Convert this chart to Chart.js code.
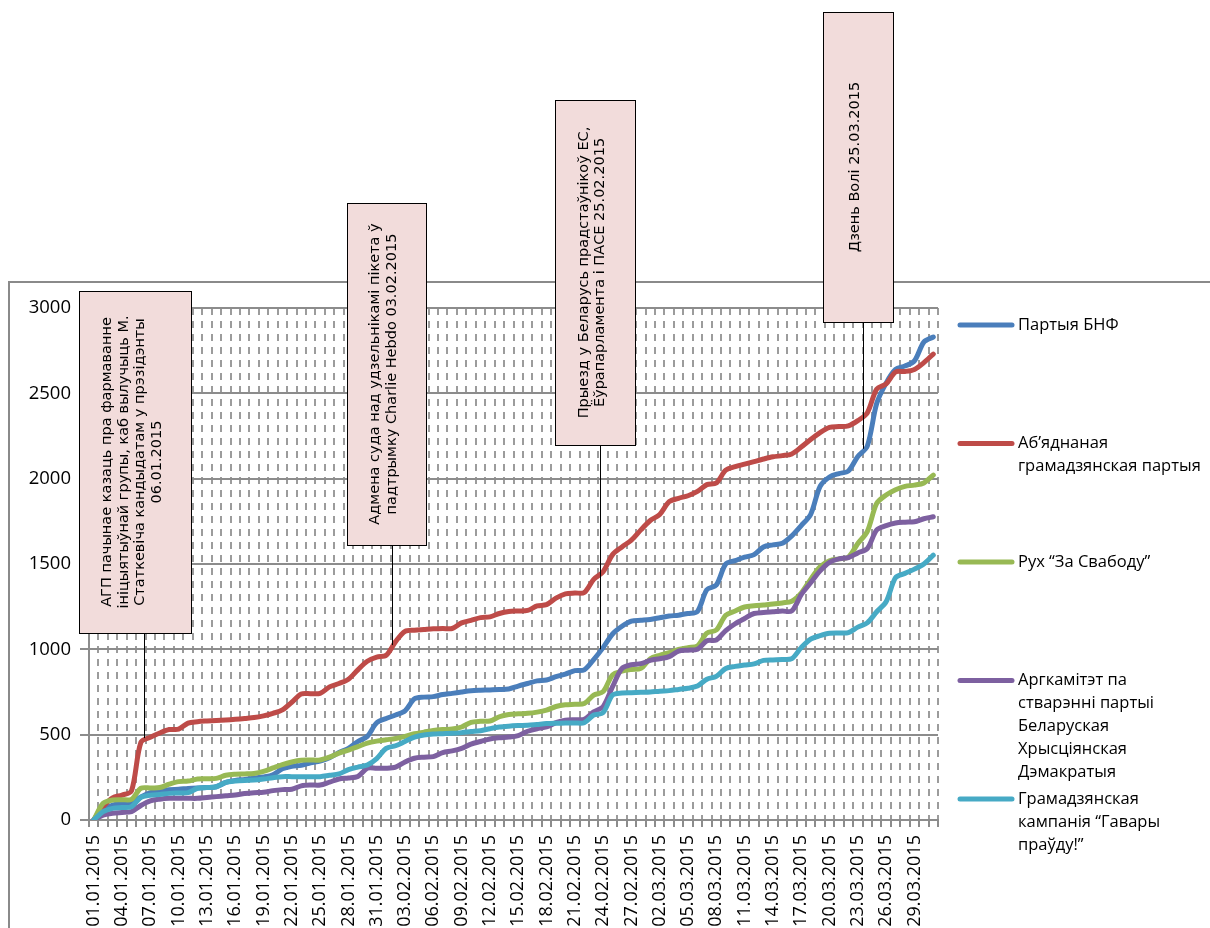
<html><head><meta charset="utf-8">
<script src="https://cdn.jsdelivr.net/npm/chart.js@4.4.0/dist/chart.umd.min.js"></script>
<style>
html,body{margin:0;padding:0;background:#fff;overflow:hidden;}
#wrap{position:absolute;left:0;top:0;width:1210px;height:928px;}
</style>
</head>
<body>
<div id="wrap"><canvas id="myChart" width="1210" height="928"></canvas></div>
<script>
function pad(n){ return n < 10 ? '0' + n : '' + n; }

// categories: every day from 01.01.2015 to 31.03.2015
var days = [];
var monthLen = [31, 28, 31];
for (var m = 0; m < 3; m++) {
  for (var d = 1; d <= monthLen[m]; d++) days.push(pad(d) + '.' + pad(m + 1) + '.2015');
}

var yTicks = [0, 500, 1000, 1500, 2000, 2500, 3000];

var seriesNames = [
  ['Партыя БНФ'],
  ['Аб’яднаная', 'грамадзянская партыя'],
  ['Рух “За Свабоду”'],
  ['Аргкамітэт па', 'стварэнні партыі', 'Беларуская', 'Хрысціянская', 'Дэмакратыя'],
  ['Грамадзянская', 'кампанія “Гавары', 'праўду!”']
];
var seriesColors = ['#4a7ebb', '#be4b48', '#98b954', '#7d60a0', '#46aac5'];

var bnf = [0,55,88,95,100,135,160,168,178,180,
  185,188,190,195,220,232,238,245,252,265,
  300,315,320,335,345,365,395,420,460,490,
  570,595,615,640,710,720,723,735,742,750,
  757,760,762,764,768,785,800,815,820,840,
  855,875,880,940,1010,1090,1135,1165,1170,1175,
  1185,1195,1200,1210,1222,1350,1377,1500,1520,1540,
  1555,1600,1612,1622,1665,1725,1790,1955,2010,2030,
  2045,2130,2190,2440,2560,2640,2660,2690,2800,2830];

var agp = [0,78,130,146,170,455,485,510,530,532,
  568,576,580,583,586,590,595,600,610,625,
  645,690,738,740,742,780,800,825,880,930,
  955,965,1045,1105,1112,1116,1120,1122,1122,1155,
  1170,1186,1190,1210,1222,1225,1228,1254,1262,1300,
  1325,1330,1333,1410,1455,1555,1600,1640,1700,1755,
  1790,1865,1885,1900,1925,1965,1975,2050,2070,2085,
  2100,2115,2128,2135,2145,2185,2230,2270,2300,2305,
  2310,2340,2385,2525,2555,2625,2628,2640,2680,2730];

var ruh = [0,98,117,119,121,186,188,190,210,225,
  228,240,242,244,262,268,270,273,285,305,
  325,340,350,351,352,368,392,410,430,450,
  462,470,478,490,505,515,525,530,533,545,
  572,578,580,605,618,622,625,632,644,665,
  675,678,682,732,752,850,872,882,888,945,
  965,980,1000,1010,1020,1095,1113,1200,1225,1248,
  1255,1260,1265,1272,1282,1330,1410,1484,1518,1530,
  1540,1620,1690,1855,1904,1935,1955,1962,1975,2021];

var bhd = [0,29,39,44,49,85,112,122,127,127,
  127,127,132,137,142,146,155,160,162,172,
  178,180,200,205,205,222,240,246,255,303,
  303,303,310,340,362,368,371,395,405,420,
  445,460,475,482,486,495,520,535,545,570,
  585,588,590,634,664,781,888,910,916,935,
  945,957,990,995,1000,1050,1055,1110,1150,1181,
  1210,1216,1220,1224,1225,1320,1390,1460,1510,1530,
  1538,1565,1590,1699,1725,1740,1745,1748,1765,1777];

var gp = [0,49,68,73,78,133,145,150,156,158,
  160,186,190,195,220,228,232,234,240,248,
  254,254,254,254,254,262,270,295,310,322,
  360,420,435,460,485,498,504,506,508,512,
  518,523,535,545,550,553,555,560,565,567,
  568,569,570,615,629,732,744,746,748,750,
  755,758,765,772,785,825,842,888,900,908,
  915,935,938,940,945,1010,1060,1080,1094,1096,
  1098,1130,1155,1220,1279,1420,1445,1470,1500,1552];

var seriesData = [bnf, agp, ruh, bhd, gp];

// callouts: text lines, box [x, y, w, h], connector end (category index, value)
var notes = [
  { lines: ['АГП пачынае казаць пра фармаванне', 'ініцыятыўнай групы, каб вылучыць М.', 'Статкевіча кандыдатам у прэзідэнты', '06.01.2015'],
    box: [79, 291, 112, 342], at: 5.3, val: 480 },
  { lines: ['Адмена суда над удзельнікамі пікета ў', 'падтрымку Charlie Hebdo 03.02.2015'],
    box: [347, 203, 79, 342], at: 31.6, val: 1025 },
  { lines: ['Прыезд у Беларусь прадстаўнікоў ЕС,', 'Ёўрапарламента і ПАСЕ 25.02.2015'],
    box: [555, 100, 80, 345], at: 53.7, val: 1000 },
  { lines: ['Дзень Волі 25.03.2015'],
    box: [823, 12, 70, 310], at: 81.5, val: 2175 }
];

var gridGray = '#8c8c8c';

var decor = {
  id: 'decor',
  beforeDraw: function(chart) {
    var ctx = chart.ctx;
    ctx.save();
    ctx.strokeStyle = '#8a8a8a';
    ctx.lineWidth = 2;
    ctx.strokeRect(9, 282, 1400, 900);
    ctx.restore();
  },
  afterDraw: function(chart) {
    var ctx = chart.ctx;
    var xs = chart.scales.x, ys = chart.scales.y;
    ctx.save();
    // legend
    var lx = 960, top = 325, step = 118.5, lh = 23;
    ctx.font = '16.5px "Open Sans"';
    ctx.textAlign = 'left';
    ctx.textBaseline = 'middle';
    for (var i = 0; i < seriesNames.length; i++) {
      var y = top + i * step;
      ctx.strokeStyle = seriesColors[i];
      ctx.lineWidth = 5;
      ctx.lineCap = 'round';
      ctx.beginPath();
      ctx.moveTo(lx, y);
      ctx.lineTo(lx + 52, y);
      ctx.stroke();
      ctx.fillStyle = '#000';
      for (var k = 0; k < seriesNames[i].length; k++) {
        ctx.fillText(seriesNames[i][k], lx + 58, y + k * lh);
      }
    }
    // callouts
    ctx.lineCap = 'butt';
    notes.forEach(function(n) {
      var b = n.box;
      var px = Math.round(xs.getPixelForValue(n.at)) + 0.5;
      var py = ys.getPixelForValue(n.val);
      ctx.strokeStyle = '#000';
      ctx.lineWidth = 1;
      ctx.beginPath();
      ctx.moveTo(px, b[1] + b[3]);
      ctx.lineTo(px, py);
      ctx.stroke();
      ctx.fillStyle = '#f2dcdb';
      ctx.fillRect(b[0], b[1], b[2], b[3]);
      ctx.strokeRect(b[0] + 0.5, b[1] + 0.5, b[2], b[3]);
      ctx.save();
      ctx.translate(b[0] + b[2] / 2 - 3, b[1] + b[3] / 2);
      ctx.rotate(-Math.PI / 2);
      ctx.fillStyle = '#000';
      ctx.font = '14.5px "DejaVu Sans"';
      ctx.textAlign = 'center';
      ctx.textBaseline = 'middle';
      var nl = n.lines.length;
      for (var j = 0; j < nl; j++) {
        ctx.fillText(n.lines[j], 0, (j - (nl - 1) / 2) * 16.5);
      }
      ctx.restore();
    });
    ctx.restore();
  }
};

var datasets = seriesData.map(function(arr, i) {
  return {
    label: seriesNames[i].join(' '),
    data: arr,
    borderColor: seriesColors[i],
    backgroundColor: seriesColors[i],
    borderWidth: 5,
    pointRadius: 0,
    tension: 0.3,
    borderCapStyle: 'round',
    borderJoinStyle: 'round',
    fill: false,
    order: seriesData.length - i
  };
});

var ctx = document.getElementById('myChart');
var myChart = new Chart(ctx, {
  type: 'line',
  data: { labels: days, datasets: datasets },
  plugins: [decor],
  options: {
    responsive: false,
    animation: false,
    layout: { padding: { left: 0, top: 308, right: 272, bottom: 0 } },
    plugins: { legend: { display: false }, tooltip: { enabled: false } },
    scales: {
      x: {
        offset: true,
        afterFit: function(s) { s.height = 108; },
        grid: { offset: true, color: '#9c9c9c', lineWidth: 2, tickLength: 7,
                tickColor: gridGray, tickWidth: 2, tickBorderDash: [] },
        border: { display: true, color: gridGray, width: 2, dash: [7, 6] },
        ticks: {
          autoSkip: false, minRotation: 90, maxRotation: 90, padding: 8,
          color: '#000', font: { family: 'Open Sans', size: 18 },
          callback: function(v, i) { return i % 3 === 0 ? days[i] : ''; }
        }
      },
      y: {
        min: 0, max: 3000,
        afterFit: function(s) { s.width = 89; },
        afterBuildTicks: function(s) { s.ticks = yTicks.map(function(v) { return { value: v }; }); },
        grid: { color: gridGray, lineWidth: 2, tickLength: 9, tickColor: gridGray, tickWidth: 2 },
        border: { display: true, color: gridGray, width: 2 },
        ticks: { padding: 9, color: '#000', font: { family: 'Open Sans', size: 18.5 },
                 callback: function(v) { return String(v); } }
      }
    }
  }
});
</script>
</body></html>
